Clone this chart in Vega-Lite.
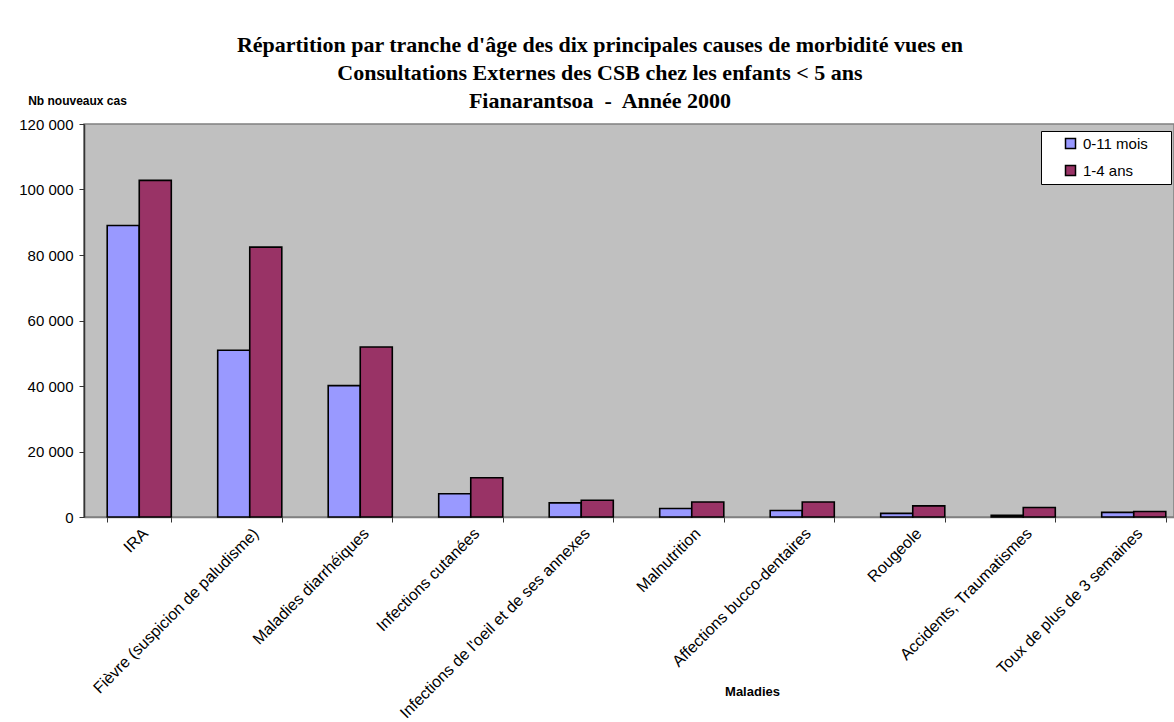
{
  "$schema": "https://vega.github.io/schema/vega-lite/v6.json",
  "autosize": {"type": "none"},
  "padding": {"left": 84, "top": 124, "right": 0, "bottom": 205},
  "width": 1090,
  "height": 393,
  "background": "white",
  "title": {
    "text": ["Répartition par tranche d'âge des dix principales causes de morbidité vues en", "Consultations Externes des CSB chez les enfants < 5 ans", "Fianarantsoa \u00a0-\u00a0 Année 2000"],
    "font": "Liberation Serif",
    "fontSize": 22,
    "fontWeight": "bold",
    "lineHeight": 28,
    "color": "black",
    "anchor": "middle",
    "frame": "group",
    "dx": -29,
    "offset": -19
  },
  "data": {
    "values": [
      {"maladie": "IRA", "tranche": "0-11 mois", "cas": 89000},
      {"maladie": "IRA", "tranche": "1-4 ans", "cas": 102800},
      {"maladie": "Fièvre (suspicion de paludisme)", "tranche": "0-11 mois", "cas": 50900},
      {"maladie": "Fièvre (suspicion de paludisme)", "tranche": "1-4 ans", "cas": 82400},
      {"maladie": "Maladies diarrhéiques", "tranche": "0-11 mois", "cas": 40100},
      {"maladie": "Maladies diarrhéiques", "tranche": "1-4 ans", "cas": 51900},
      {"maladie": "Infections cutanées", "tranche": "0-11 mois", "cas": 7100},
      {"maladie": "Infections cutanées", "tranche": "1-4 ans", "cas": 12000},
      {"maladie": "Infections de l'oeil et de ses annexes", "tranche": "0-11 mois", "cas": 4300},
      {"maladie": "Infections de l'oeil et de ses annexes", "tranche": "1-4 ans", "cas": 5100},
      {"maladie": "Malnutrition", "tranche": "0-11 mois", "cas": 2600},
      {"maladie": "Malnutrition", "tranche": "1-4 ans", "cas": 4600},
      {"maladie": "Affections bucco-dentaires", "tranche": "0-11 mois", "cas": 2000},
      {"maladie": "Affections bucco-dentaires", "tranche": "1-4 ans", "cas": 4600},
      {"maladie": "Rougeole", "tranche": "0-11 mois", "cas": 1100},
      {"maladie": "Rougeole", "tranche": "1-4 ans", "cas": 3400},
      {"maladie": "Accidents, Traumatismes", "tranche": "0-11 mois", "cas": 500},
      {"maladie": "Accidents, Traumatismes", "tranche": "1-4 ans", "cas": 2900},
      {"maladie": "Toux de plus de 3 semaines", "tranche": "0-11 mois", "cas": 1400},
      {"maladie": "Toux de plus de 3 semaines", "tranche": "1-4 ans", "cas": 1700}
    ]
  },
  "mark": {"type": "bar", "stroke": "black", "strokeWidth": 1.6},
  "encoding": {
    "x": {
      "field": "maladie",
      "type": "nominal",
      "sort": null,
      "scale": {"range": [0, 1105], "paddingInner": 0.42, "paddingOuter": 0.21},
      "axis": {
        "title": "Maladies",
        "titleFont": "Liberation Sans",
        "titleFontSize": 13,
        "titleFontWeight": "bold",
        "titleColor": "black",
        "titleAnchor": null,
        "titleAlign": "center",
        "titleBaseline": "alphabetic",
        "titleX": 668,
        "titleY": 178,
        "labelAngle": -45,
        "labelFont": "Liberation Sans",
        "labelFontSize": 16,
        "labelColor": "black",
        "labelPadding": 3,
        "labelLimit": 400,
        "labelOverlap": false,
        "tickBand": "extent",
        "tickSize": 5,
        "tickColor": "#333333",
        "domainColor": "#808080",
        "domainWidth": 1.5
      }
    },
    "xOffset": {"field": "tranche", "type": "nominal", "sort": ["0-11 mois", "1-4 ans"], "scale": {"paddingInner": 0, "paddingOuter": 0}},
    "y": {
      "field": "cas",
      "type": "quantitative",
      "scale": {"domain": [0, 120000], "nice": false},
      "axis": {
        "values": [0, 20000, 40000, 60000, 80000, 100000, 120000],
        "labelExpr": "replace(format(datum.value, ','), ',', ' ')",
        "grid": false,
        "title": "Nb nouveaux cas",
        "titleAngle": 0,
        "titleFont": "Liberation Sans",
        "titleFontSize": 12,
        "titleFontWeight": "bold",
        "titleColor": "black",
        "titleAlign": "center",
        "titleBaseline": "alphabetic",
        "titleAnchor": null,
        "titleX": -7,
        "titleY": -20,
        "labelFont": "Liberation Sans",
        "labelFontSize": 15,
        "labelColor": "black",
        "labelPadding": 6,
        "tickSize": 5,
        "tickColor": "#333333",
        "domainColor": "#333333",
        "domainWidth": 1.5
      }
    },
    "color": {
      "field": "tranche",
      "type": "nominal",
      "scale": {"domain": ["0-11 mois", "1-4 ans"], "range": ["#9999FF", "#993366"]},
      "legend": {
        "title": "\u00a0",
        "titleOrient": "right",
        "titlePadding": 18,
        "titleFontSize": 8,
        "orient": "none",
        "legendX": 957,
        "legendY": 7,
        "fillColor": "white",
        "strokeColor": "black",
        "padding": 5,
        "symbolOffset": 17,
        "symbolType": "square",
        "symbolSize": 100,
        "symbolStrokeColor": "black",
        "symbolStrokeWidth": 1.5,
        "symbolOpacity": 1,
        "labelFont": "Liberation Sans",
        "labelFontSize": 15,
        "labelColor": "black",
        "labelOffset": 5,
        "rowPadding": 10
      }
    }
  },
  "config": {
    "view": {"fill": "#C0C0C0", "stroke": "#808080", "strokeWidth": 1.5}
  }
}
